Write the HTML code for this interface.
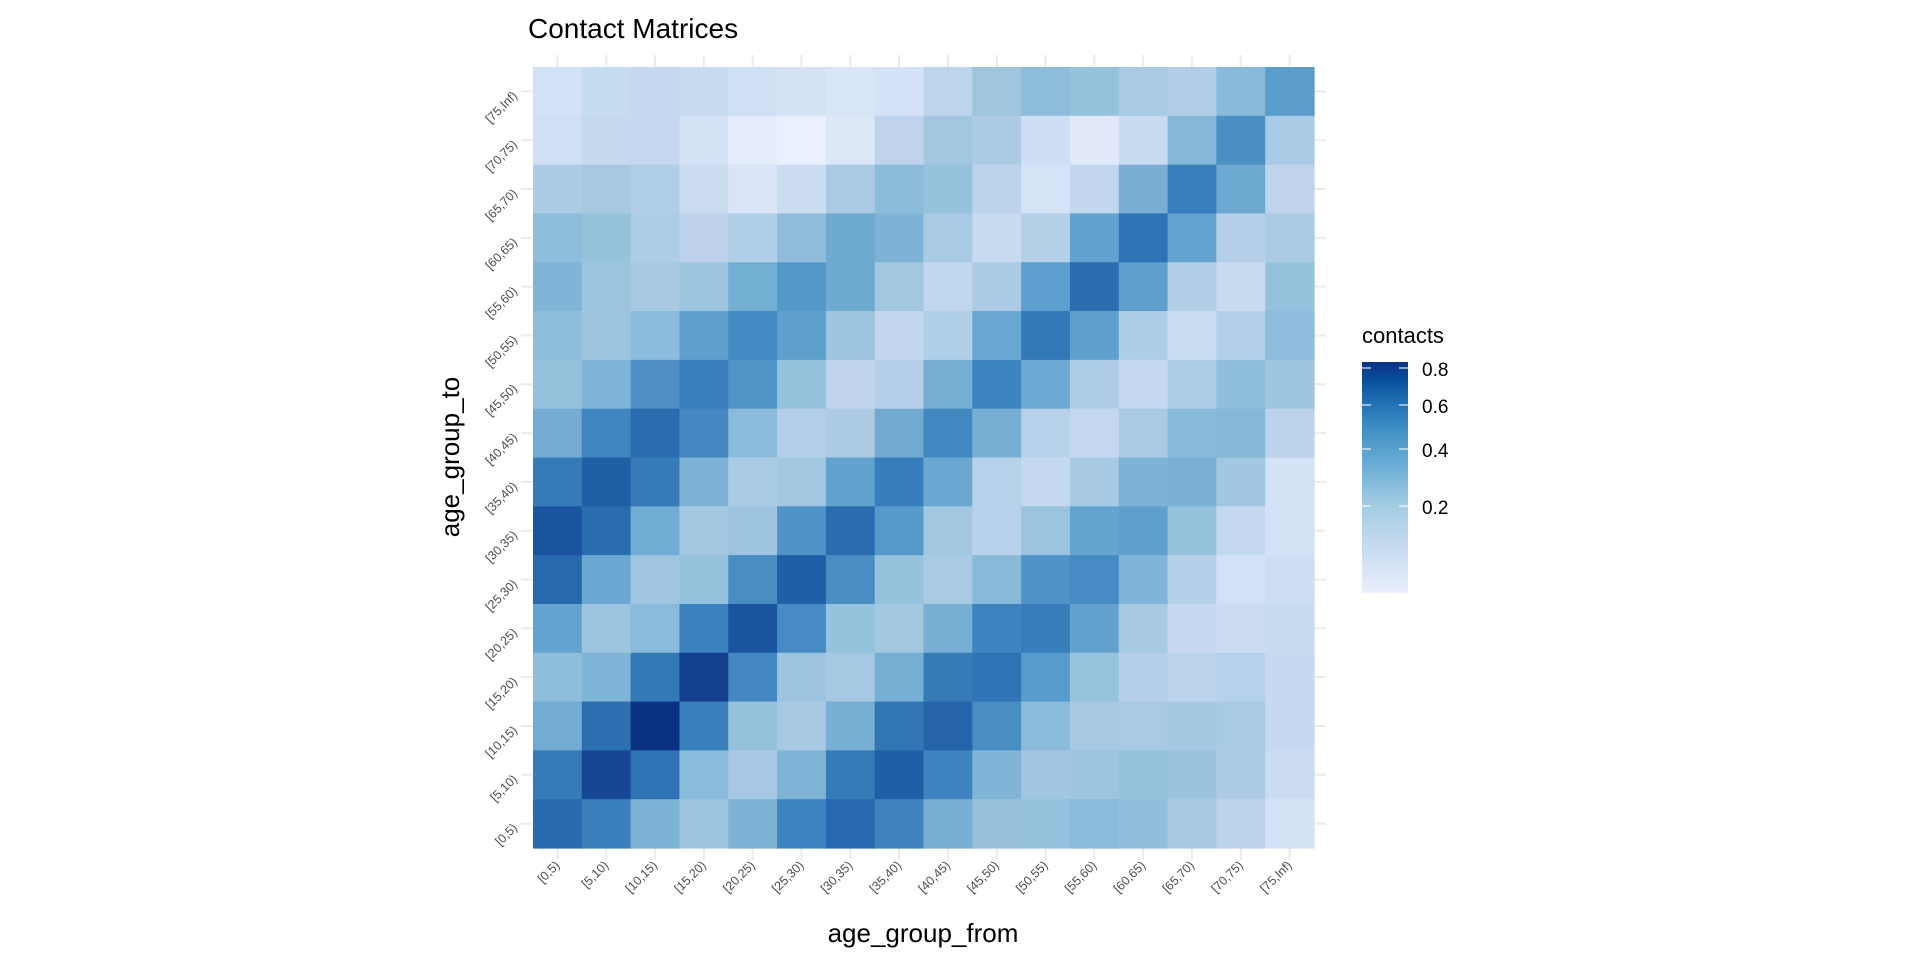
<!DOCTYPE html>
<html><head><meta charset="utf-8"><style>
html,body{margin:0;padding:0;background:#fff;}
svg{display:block;font-family:"Liberation Sans",Arial,sans-serif;}
</style></head><body>
<svg id="s" width="1920" height="960" xmlns="http://www.w3.org/2000/svg">
<defs>
<linearGradient id="lg" x1="0" y1="1" x2="0" y2="0">
<stop offset="0" stop-color="#eaf0fd"/>
<stop offset="0.2" stop-color="#c6dbef"/>
<stop offset="0.4" stop-color="#9ecae1"/>
<stop offset="0.55" stop-color="#6baed6"/>
<stop offset="0.7" stop-color="#4292c6"/>
<stop offset="0.82" stop-color="#2171b5"/>
<stop offset="0.92" stop-color="#08519c"/>
<stop offset="1" stop-color="#0b3182"/>
</linearGradient>
</defs>
<g id="g"></g>
<text x="528" y="38" font-size="28" fill="#000">Contact Matrices</text>
<text x="923" y="942" font-size="26" text-anchor="middle" fill="#000">age_group_from</text>
<text transform="translate(459,457) rotate(-90)" font-size="26" text-anchor="middle" fill="#000">age_group_to</text>
<text x="1362" y="343" font-size="22" fill="#000">contacts</text>
<rect x="1362" y="362" width="46" height="231" fill="url(#lg)"/>
<g stroke="#fff" stroke-opacity="0.7" stroke-width="1.5">
<line x1="1362" x2="1371" y1="368" y2="368"/><line x1="1399" x2="1408" y1="368" y2="368"/>
<line x1="1362" x2="1371" y1="405" y2="405"/><line x1="1399" x2="1408" y1="405" y2="405"/>
<line x1="1362" x2="1371" y1="449" y2="449"/><line x1="1399" x2="1408" y1="449" y2="449"/>
<line x1="1362" x2="1371" y1="506" y2="506"/><line x1="1399" x2="1408" y1="506" y2="506"/>
</g>
<g font-size="19" fill="#000">
<text x="1422" y="376">0.8</text><text x="1422" y="413">0.6</text>
<text x="1422" y="457">0.4</text><text x="1422" y="514">0.2</text>
</g>
</svg>
<script>
var M=[
"d3e1f6 c6dcef c5d8ef c8dbf0 cfdff4 d4e2f4 d8e5f7 d4e2f7 bed3ec 9fc5df 8ebddb 96c2dd a9cae4 b2cde5 8abad9 5a9dcb",
"d0dff4 c6d9ef c6d8ef d3e2f4 e5ecfb eaf0fd dce7f8 bfd3ec a4c7e1 adcbe4 cedef4 e0e8f9 c9dbf1 85b7d7 4a90c5 a9cae5",
"adcbe4 a6c9e0 b0cee6 cbdbf0 d9e4f7 ccdcf1 aacae4 8dbcda 95c1dc bdd3eb d5e3f6 c2d6ee 78aed4 3880bd 6ea9d1 bfd3ec",
"8dbdda 96c2dc abcde5 bed3eb b1cfe6 8fbcda 6ea9d0 7eb3d5 a8cae4 c7daf0 b4cfe6 63a2cf 2e73b5 64a2cf b4cfe7 abcbe4",
"7fb5d6 9cc4df a7c9e2 9dc5df 72afd3 5398c9 6ea9d0 a3c7e1 c0d6ee aecbe5 5d9fce 2a6db0 5da0cd b3cfe7 c9dbf1 94c2dd",
"8fbddc 9dc4df 8cbcdb 5ea1ce 448bc3 5ea0cc 9ec5df c2d6ee b1cfe7 6aa6d2 3279b7 5fa1ce b0cde6 c9dcf1 b4cfe8 8fbcdc",
"94c2dd 7fb4d6 4e90c5 387fbc 5094c8 96c1dc c0d5ed b7d0e9 76aed4 3d85c0 6ea9d3 b0cde7 c5d8f0 b0cde6 90bedd 9dc5df",
"73abd2 3f85c0 2a6daf 4488c1 8bbbda b5cfe8 adcbe4 72a9d0 4188c0 77afd4 b7d1ea c3d8ef aacae4 8abad9 86b7d7 bdd3ec",
"357bb8 1f5fa6 347bb8 7eb3d6 aacbe4 a3c7e1 62a2cf 377fbc 6aa8d2 b6d1ea c4d8f0 a7c9e3 7eb3d6 7ab1d5 a0c6e1 d3e2f5",
"1a54a0 2a6dae 70acd3 a4c7e2 9cc3df 4f93c8 2a6dae 559acb a5c8e2 b7d1ea 9cc4df 66a4d0 5fa0cd 95c2dd c4d8ef d4e2f5",
"2868ac 6aa7d3 9fc5e0 95c2dd 488ec3 1f5fa7 488ec3 96c2dd a9cbe5 8abad9 5093c8 468bc3 80b4d6 b6d0e9 d2e1f6 cddef2",
"64a3d0 9cc3df 8bbbdb 3c82bf 1a53a0 468bc3 95c2dd a2c7e1 77afd4 3d84c0 377ebb 63a2cf a7c9e2 c6d9f0 cbdcf1 c7daf0",
"8fbddc 7fb5d6 3279b7 12408f 4488c2 9cc4df a5c8e3 76aed4 357bb6 2f74b4 569bcb 98c3de b6d0ea bad2ea b6d1ea c6d9f0",
"72abd3 2c6fb0 0b3182 387fbc 96c2dd a7c9e4 78afd5 3176b5 2563ab 488ec3 8bbbdb a7c9e3 a9cae5 a5c8e2 a9cae5 c6d9f0",
"357bb8 164795 2e74b5 8bbbdb a6c8e4 7fb4d6 357bb8 1f5fa7 3d83bf 80b5d7 a1c6e2 9dc5df 97c2dd 9cc3de aecbe5 cbdcf1",
"2a6baf 3a80bc 7bb2d6 9cc4df 7fb3d6 3e84c0 2769b0 3e82be 76aed4 98c1dc 96c2dd 8abbda 91bedc a6c8e2 bdd3eb d3e2f5"];
var labs=['[0,5)','[5,10)','[10,15)','[15,20)','[20,25)','[25,30)','[30,35)','[35,40)','[40,45)','[45,50)','[50,55)','[55,60)','[60,65)','[65,70)','[70,75)','[75,Inf)'];
var L=533,T=67,W=781,c=W/16,h='';
for(var i=0;i<16;i++){var cx=L+c*(i+.5),cy=T+c*(i+.5);
h+='<line x1="'+cx+'" x2="'+cx+'" y1="'+(T-12)+'" y2="'+(T+W+12)+'" stroke="#ebebeb" stroke-width="2"/>';
h+='<line x1="'+(L-12)+'" x2="'+(L+W+12)+'" y1="'+cy+'" y2="'+cy+'" stroke="#ebebeb" stroke-width="2"/>';}
for(var r=0;r<16;r++){var row=M[r].split(' ');for(var k=0;k<16;k++){
h+='<rect x="'+(L+k*c)+'" y="'+(T+r*c)+'" width="'+(c+.6)+'" height="'+(c+.6)+'" fill="#'+row[k]+'"/>';}}
for(var i=0;i<16;i++){
var cx=L+c*(i+.5);
h+='<text transform="translate('+(cx+3)+','+(T+W+18)+') rotate(-45)" text-anchor="end" font-size="12.5" fill="#4d4d4d">'+labs[i]+'</text>';
var cy=T+c*(15-i+.5);
h+='<text transform="translate('+(L-15)+','+(cy+5)+') rotate(-45)" text-anchor="end" font-size="12.5" fill="#4d4d4d">'+labs[i]+'</text>';}
document.getElementById('g').innerHTML=h;
</script>
</body></html>
